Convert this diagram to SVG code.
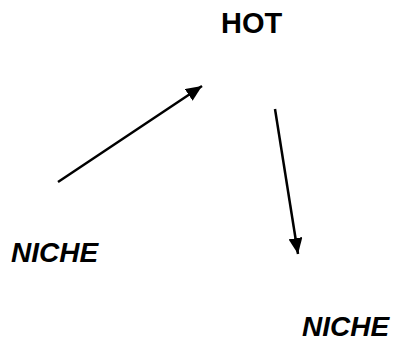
<svg xmlns="http://www.w3.org/2000/svg" width="395" height="342" viewBox="0 0 395 342">
<style>
.lbl{font-family:"Liberation Sans",Arial,sans-serif;font-weight:bold;fill:#000}
.it{font-style:italic}
.edge{stroke:#000;stroke-width:2.5;fill:none}
</style>
<defs>
<marker id="ah" viewBox="0 0 16 14" refX="16" refY="7" markerWidth="16" markerHeight="14" markerUnits="userSpaceOnUse" orient="auto">
<path d="M0,0 L16,7 L0,14 Z" fill="#000"/>
</marker>
</defs>
<rect width="395" height="342" fill="#fff"/>
<g id="hot"><text class="lbl" x="221" y="33" font-size="29">HOT</text></g>
<g id="niche1"><text class="lbl it" x="11" y="262" font-size="28">NICHE</text></g>
<g id="niche2"><text class="lbl it" x="302" y="336" font-size="28">NICHE</text></g>
<g id="connectors">
<line class="edge" x1="58" y1="182" x2="202" y2="86" marker-end="url(#ah)"/>
<line class="edge" x1="275" y1="109" x2="298" y2="254" marker-end="url(#ah)"/>
</g>
</svg>
